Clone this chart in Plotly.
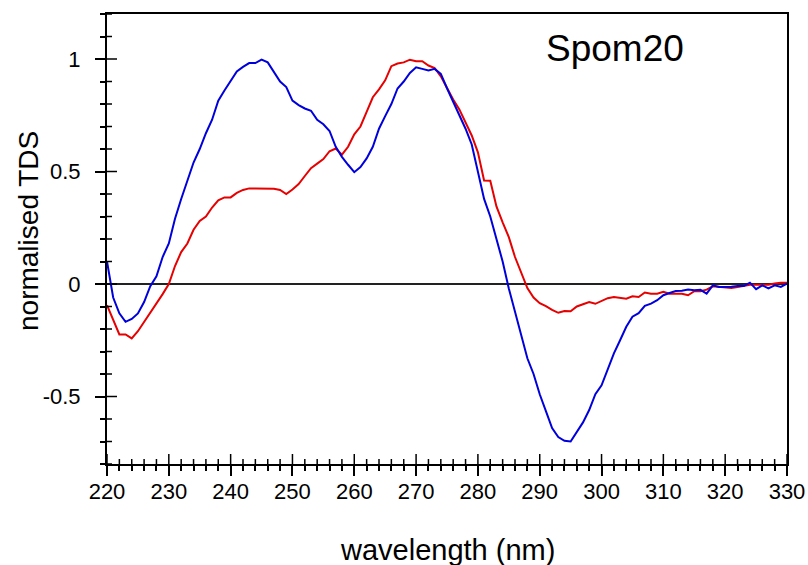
import plotly.graph_objects as go

wavelength = list(range(220, 331))

blue_tds = [
    0.10, -0.06, -0.13, -0.168, -0.155, -0.131, -0.08, -0.01, 0.034, 0.12,
    0.18, 0.29, 0.378, 0.46, 0.54, 0.60, 0.67, 0.73, 0.815, 0.86,
    0.905, 0.945, 0.965, 0.982, 0.982, 0.997, 0.985, 0.94, 0.90, 0.875,
    0.815, 0.795, 0.78, 0.77, 0.73, 0.71, 0.68, 0.61, 0.565, 0.53,
    0.497, 0.52, 0.558, 0.61, 0.69, 0.746, 0.80, 0.869, 0.90, 0.938,
    0.963, 0.956, 0.949, 0.956, 0.934, 0.87, 0.81, 0.754, 0.69, 0.62,
    0.50, 0.378, 0.30, 0.20, 0.10, -0.02, -0.12, -0.225, -0.33, -0.40,
    -0.49, -0.565, -0.64, -0.68, -0.697, -0.70, -0.66, -0.615, -0.56, -0.49,
    -0.45, -0.38, -0.308, -0.25, -0.19, -0.145, -0.13, -0.097, -0.087, -0.072,
    -0.05, -0.04, -0.031, -0.03, -0.025, -0.028, -0.026, -0.043, -0.006, -0.013,
    -0.013, -0.012, -0.009, -0.009, 0.006, -0.023, -0.006, -0.02, -0.006, -0.013,
    0.002,
]

red_tds = [
    -0.094, -0.16, -0.224, -0.224, -0.242, -0.21, -0.17, -0.13, -0.085, -0.045,
    0.0, 0.08, 0.142, 0.18, 0.241, 0.28, 0.30, 0.34, 0.372, 0.385,
    0.385, 0.405, 0.418, 0.425, 0.425, 0.425, 0.425, 0.423, 0.418, 0.40,
    0.42, 0.444, 0.48, 0.515, 0.535, 0.555, 0.59, 0.602, 0.575, 0.61,
    0.665, 0.70, 0.765, 0.83, 0.865, 0.905, 0.968, 0.98, 0.985, 0.997,
    0.99, 0.99, 0.971, 0.96, 0.923, 0.87, 0.82, 0.776, 0.715, 0.66,
    0.585, 0.46, 0.459, 0.345, 0.274, 0.208, 0.12, 0.05, -0.018, -0.06,
    -0.085, -0.098, -0.115, -0.128, -0.12, -0.121, -0.10, -0.09, -0.08, -0.088,
    -0.075, -0.063, -0.058, -0.06, -0.065, -0.055, -0.058, -0.038, -0.043, -0.043,
    -0.035, -0.043, -0.043, -0.043, -0.05, -0.032, -0.032, -0.025, -0.01, -0.013,
    -0.015, -0.018, -0.013, -0.008, -0.003, -0.003, -0.003, -0.003, 0.002, 0.006,
    0.006,
]

x_ticks = list(range(220, 331, 10))
x_minor = [v for v in range(220, 331, 2) if v % 10 != 0]
y_tickvals = [-0.5, 0, 0.5, 1]
y_ticktext = ["-0.5", "0", "0.5", "1"]
y_minor = [round(-0.8 + 0.1 * i, 1) for i in range(21)]
y_minor = [v for v in y_minor if v not in y_tickvals]

FONT = "Liberation Sans, Arial, sans-serif"

fig = go.Figure()
fig.add_trace(go.Scatter(x=wavelength, y=red_tds, mode="lines",
                         line=dict(color="#e60000", width=2), showlegend=False))
fig.add_trace(go.Scatter(x=wavelength, y=blue_tds, mode="lines",
                         line=dict(color="#0000dc", width=2), showlegend=False))

xr = [220, 330]
yr = [-0.8, 1.2]
PW, PH = 680, 450  # plot area in px

# zero line and the inside halves of the crossing ticks
shapes = [dict(type="line", xref="paper", yref="y", x0=0, x1=1, y0=0, y1=0,
               line=dict(color="#222222", width=2), layer="below")]
for v in x_ticks:
    shapes.append(dict(type="line", xref="x", yref="paper", x0=v, x1=v,
                       y0=0, y1=10 / PH, line=dict(color="black", width=1.5)))
for v in x_minor:
    shapes.append(dict(type="line", xref="x", yref="paper", x0=v, x1=v,
                       y0=0, y1=5 / PH, line=dict(color="black", width=1.5)))
for v in y_tickvals:
    shapes.append(dict(type="line", xref="paper", yref="y", y0=v, y1=v,
                       x0=0, x1=10 / PW, line=dict(color="black", width=1.5)))
for v in y_minor:
    shapes.append(dict(type="line", xref="paper", yref="y", y0=v, y1=v,
                       x0=0, x1=5 / PW, line=dict(color="black", width=1.5)))

fig.update_layout(
    template="none",
    width=808, height=565,
    margin=dict(l=107, r=21, t=14, b=101, pad=0),
    paper_bgcolor="white", plot_bgcolor="white",
    font=dict(family=FONT, color="black", size=20),
    xaxis=dict(range=xr, tickvals=x_ticks, ticks="outside", ticklen=10,
               tickwidth=1.5, tickcolor="black",
               minor=dict(tickvals=x_minor, ticks="outside", ticklen=5,
                          tickwidth=1.5, tickcolor="black", showgrid=False),
               showgrid=False, zeroline=False, automargin=False,
               showline=True, linecolor="black", linewidth=2, mirror=True,
               tickfont=dict(size=22, family=FONT), ticklabelstandoff=-3),
    yaxis=dict(range=yr, tickvals=y_tickvals, ticktext=y_ticktext,
               ticks="outside", ticklen=10, tickwidth=1.5, tickcolor="black",
               minor=dict(tickvals=y_minor, ticks="outside", ticklen=5,
                          tickwidth=1.5, tickcolor="black", showgrid=False),
               showgrid=False, zeroline=False, automargin=False,
               showline=True, linecolor="black", linewidth=2, mirror=True,
               tickfont=dict(size=22, family=FONT), ticklabelstandoff=10),
    shapes=shapes,
    annotations=[
        dict(text="wavelength (nm)", xref="paper", yref="paper",
             x=0.5, y=(464 - 550) / 450, xanchor="center", yanchor="middle",
             showarrow=False, font=dict(size=29, family=FONT)),
        dict(text="normalised TDS", xref="paper", yref="paper",
             x=(28 - 107) / 680, y=(464 - 231) / 450, xanchor="center",
             yanchor="middle", textangle=-90, showarrow=False,
             font=dict(size=28, family=FONT)),
        dict(text="Spom20", xref="paper", yref="paper",
             x=(615 - 107) / 680, y=(464 - 49) / 450, xanchor="center",
             yanchor="middle", showarrow=False,
             font=dict(size=37, family=FONT)),
    ],
)

fig.write_html("out.html")
